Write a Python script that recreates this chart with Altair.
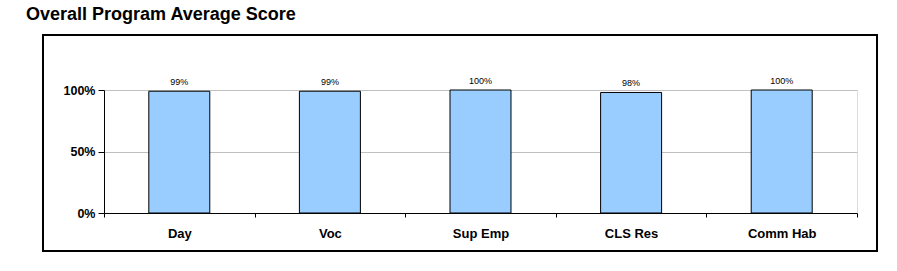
import altair as alt
import pandas as pd

programs = ["Day", "Voc", "Sup Emp", "CLS Res", "Comm Hab"]
scores = [0.99, 0.99, 1.00, 0.98, 1.00]
labels = ["99%", "99%", "100%", "98%", "100%"]

df = pd.DataFrame({"program": programs, "score": scores, "label": labels})

W, H = 753, 123
FONT = "Liberation Sans"

x = alt.X("program:N", sort=programs, title=None,
          scale=alt.Scale(paddingInner=0, paddingOuter=0),
          axis=alt.Axis(labelAngle=0, labelFont=FONT, labelFontSize=13, labelFontWeight="bold",
                        labelColor="black", labelPadding=10, tickBand="extent", tickSize=4,
                        tickColor="black", domainColor="black", domainWidth=1, grid=False))
y = alt.Y("score:Q", title=None,
          scale=alt.Scale(domain=[0, 1]),
          axis=alt.Axis(values=[0, 0.5, 1], format="%", labelFont=FONT, labelFontSize=12.5,
                        labelFontWeight="bold", labelColor="black", labelPadding=3, tickSize=6,
                        tickColor="black", domainColor="black", grid=True, gridColor="#C0C0C0",
                        gridWidth=1))

bars = alt.Chart(df).mark_bar(color="#99CCFF", stroke="black", strokeWidth=1,
                              width=alt.RelativeBandSize(0.405)).encode(x=x, y=y)
text = alt.Chart(df).mark_text(font=FONT, fontSize=9, color="black", baseline="bottom", dy=-4).encode(
    x=alt.X("program:N", sort=programs), y="score:Q", text="label:N")

frame = alt.Chart(df).mark_rect(fill=None, stroke="black", strokeWidth=2).encode(
    x=alt.value(-61), x2=alt.value(773), y=alt.value(-55), y2=alt.value(161))

chart = alt.layer(frame, bars, text).properties(
    width=W, height=H,
    autosize=alt.AutoSizeParams(type="none"),
    padding={"left": 104, "top": 90, "right": 40, "bottom": 58},
    title=alt.TitleParams("Overall Program Average Score", anchor="start", frame="group",
                          font=FONT, fontSize=18, fontWeight="bold", color="black",
                          dx=-78, offset=10),
).configure_view(stroke=None).configure(background="white")

chart.save("out.html", embed_options={"renderer": "svg", "actions": False})
